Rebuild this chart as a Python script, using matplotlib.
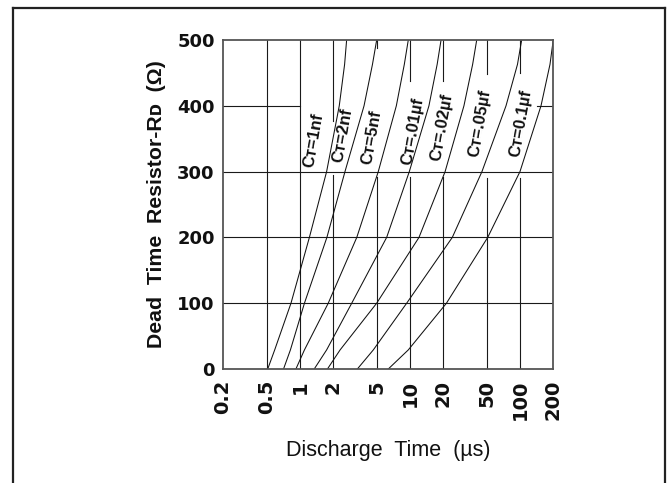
import matplotlib
matplotlib.use("Agg")
import matplotlib.pyplot as plt
from matplotlib.lines import Line2D

# ---- data ----
r_levels = [0, 29, 100, 200, 300, 400, 463, 500]
t_1nf = [0.51, 0.59, 0.83, 1.22, 1.75, 2.28, 2.55, 2.66]
t_2nf = [0.71, 0.82, 1.10, 1.76, 2.57, 3.83, 4.57, 4.99]
t_5nf = [0.92, 1.10, 1.81, 3.29, 5.16, 7.53, 8.90, 9.67]
t_01uf = [1.35, 1.75, 2.96, 6.15, 9.88, 14.9, 17.7, 19.2]
t_02uf = [1.78, 2.32, 4.99, 12.1, 20.9, 31.0, 37.2, 40.5]
t_05uf = [3.33, 4.65, 9.35, 24.3, 45.2, 74.8, 95.1, 103.8]
t_1uf = [6.36, 9.67, 21.5, 51.0, 100.2, 155.6, 187.8, 201.0]
curve_labels = ["C\u1d1b=1nf", "C\u1d1b=2nf", "C\u1d1b=5nf", "C\u1d1b=.01\u00b5f",
                "C\u1d1b=.02\u00b5f", "C\u1d1b=.05\u00b5f", "C\u1d1b=0.1\u00b5f"]
x_ticks = [0.2, 0.5, 1, 2, 5, 10, 20, 50, 100, 200]
x_ticklabels = ["0.2", "0.5", "1", "2", "5", "10", "20", "50", "100", "200"]
y_ticks = [0, 100, 200, 300, 400, 500]

# label anchor positions (data coords)
label_x = [1.34, 2.47, 4.52, 10.7, 19.6, 43.4, 102.0]
label_y = [347, 355, 352, 361, 367, 373, 373]

# gridline segments (with gaps where the labels sit)
vgrid_segments = {
    0.5: [(0, 500)],
    1: [(0, 500)],
    2: [(0, 295), (377, 500)],
    5: [(0, 292), (488, 500)],
    10: [(0, 292), (438, 500)],
    20: [(0, 292), (438, 500)],
    50: [(0, 290), (449, 500)],
    100: [(0, 290), (450, 500)],
}
hgrid_segments = {
    100: [(0.2, 200)],
    200: [(0.2, 200)],
    300: [(0.2, 200)],
    400: [(0.2, 1), (143, 200)],
}

W, H = 671, 483
fig = plt.figure(figsize=(W / 100, H / 100), dpi=100)
ax = fig.add_axes([223 / W, (H - 369) / H, 330 / W, 329 / H])
ax.set_xscale("log")
ax.set_xlim(0.2, 200)
ax.set_ylim(0, 500)

grid_kw = dict(color="#1a1a1a", lw=0.8)
for xv, segs in vgrid_segments.items():
    for y0, y1 in segs:
        ax.plot([xv, xv], [y0, y1], **grid_kw)
for yv, segs in hgrid_segments.items():
    for x0, x1 in segs:
        ax.plot([x0, x1], [yv, yv], **grid_kw)

for t in [t_1nf, t_2nf, t_5nf, t_01uf, t_02uf, t_05uf, t_1uf]:
    ax.plot(t, r_levels, color="#111111", lw=0.75, clip_on=True,
            solid_joinstyle="round")

for lx, ly, txt in zip(label_x, label_y, curve_labels):
    ax.text(lx, ly, txt, rotation=80, ha="center", va="center",
            fontsize=12, fontweight="bold", family=["Liberation Sans", "DejaVu Sans"],
            color="#111111")

for s in ax.spines.values():
    s.set_color("#555555")
    s.set_linewidth(1.3)

ax.set_xticks(x_ticks)
ax.set_xticklabels(x_ticklabels, rotation=90, fontsize=14, fontweight="bold",
                   family=["DejaVu Sans"])
ax.minorticks_off()
ax.set_yticks(y_ticks)
ax.set_yticklabels([str(v) for v in y_ticks], fontsize=13, fontweight="bold",
                   family=["DejaVu Sans"])
ax.tick_params(axis="x", length=0, pad=8, colors="#111111")
ax.tick_params(axis="y", length=0, pad=6, colors="#111111")

ax.set_xlabel("Discharge  Time  (\u00b5s)", fontsize=15.5, labelpad=14,
              family=["Liberation Sans", "DejaVu Sans"], color="#111111")
ax.set_ylabel("Dead  Time  Resistor-R\u1d05  (\u03a9)", fontsize=15.3, fontweight="bold",
              labelpad=8, family=["Liberation Sans", "DejaVu Sans"],
              color="#111111")

# outer frame
yt = 1 - 8.3 / H
xl = 12.8 / W
xr = 665 / W
fig.add_artist(Line2D([xl, xr], [yt, yt], transform=fig.transFigure, color="#222222", lw=1.6))
fig.add_artist(Line2D([xl, xl], [0, yt], transform=fig.transFigure, color="#222222", lw=1.6))
fig.add_artist(Line2D([xr, xr], [0, yt], transform=fig.transFigure, color="#222222", lw=1.6))

fig.savefig("out.png", dpi=100)
